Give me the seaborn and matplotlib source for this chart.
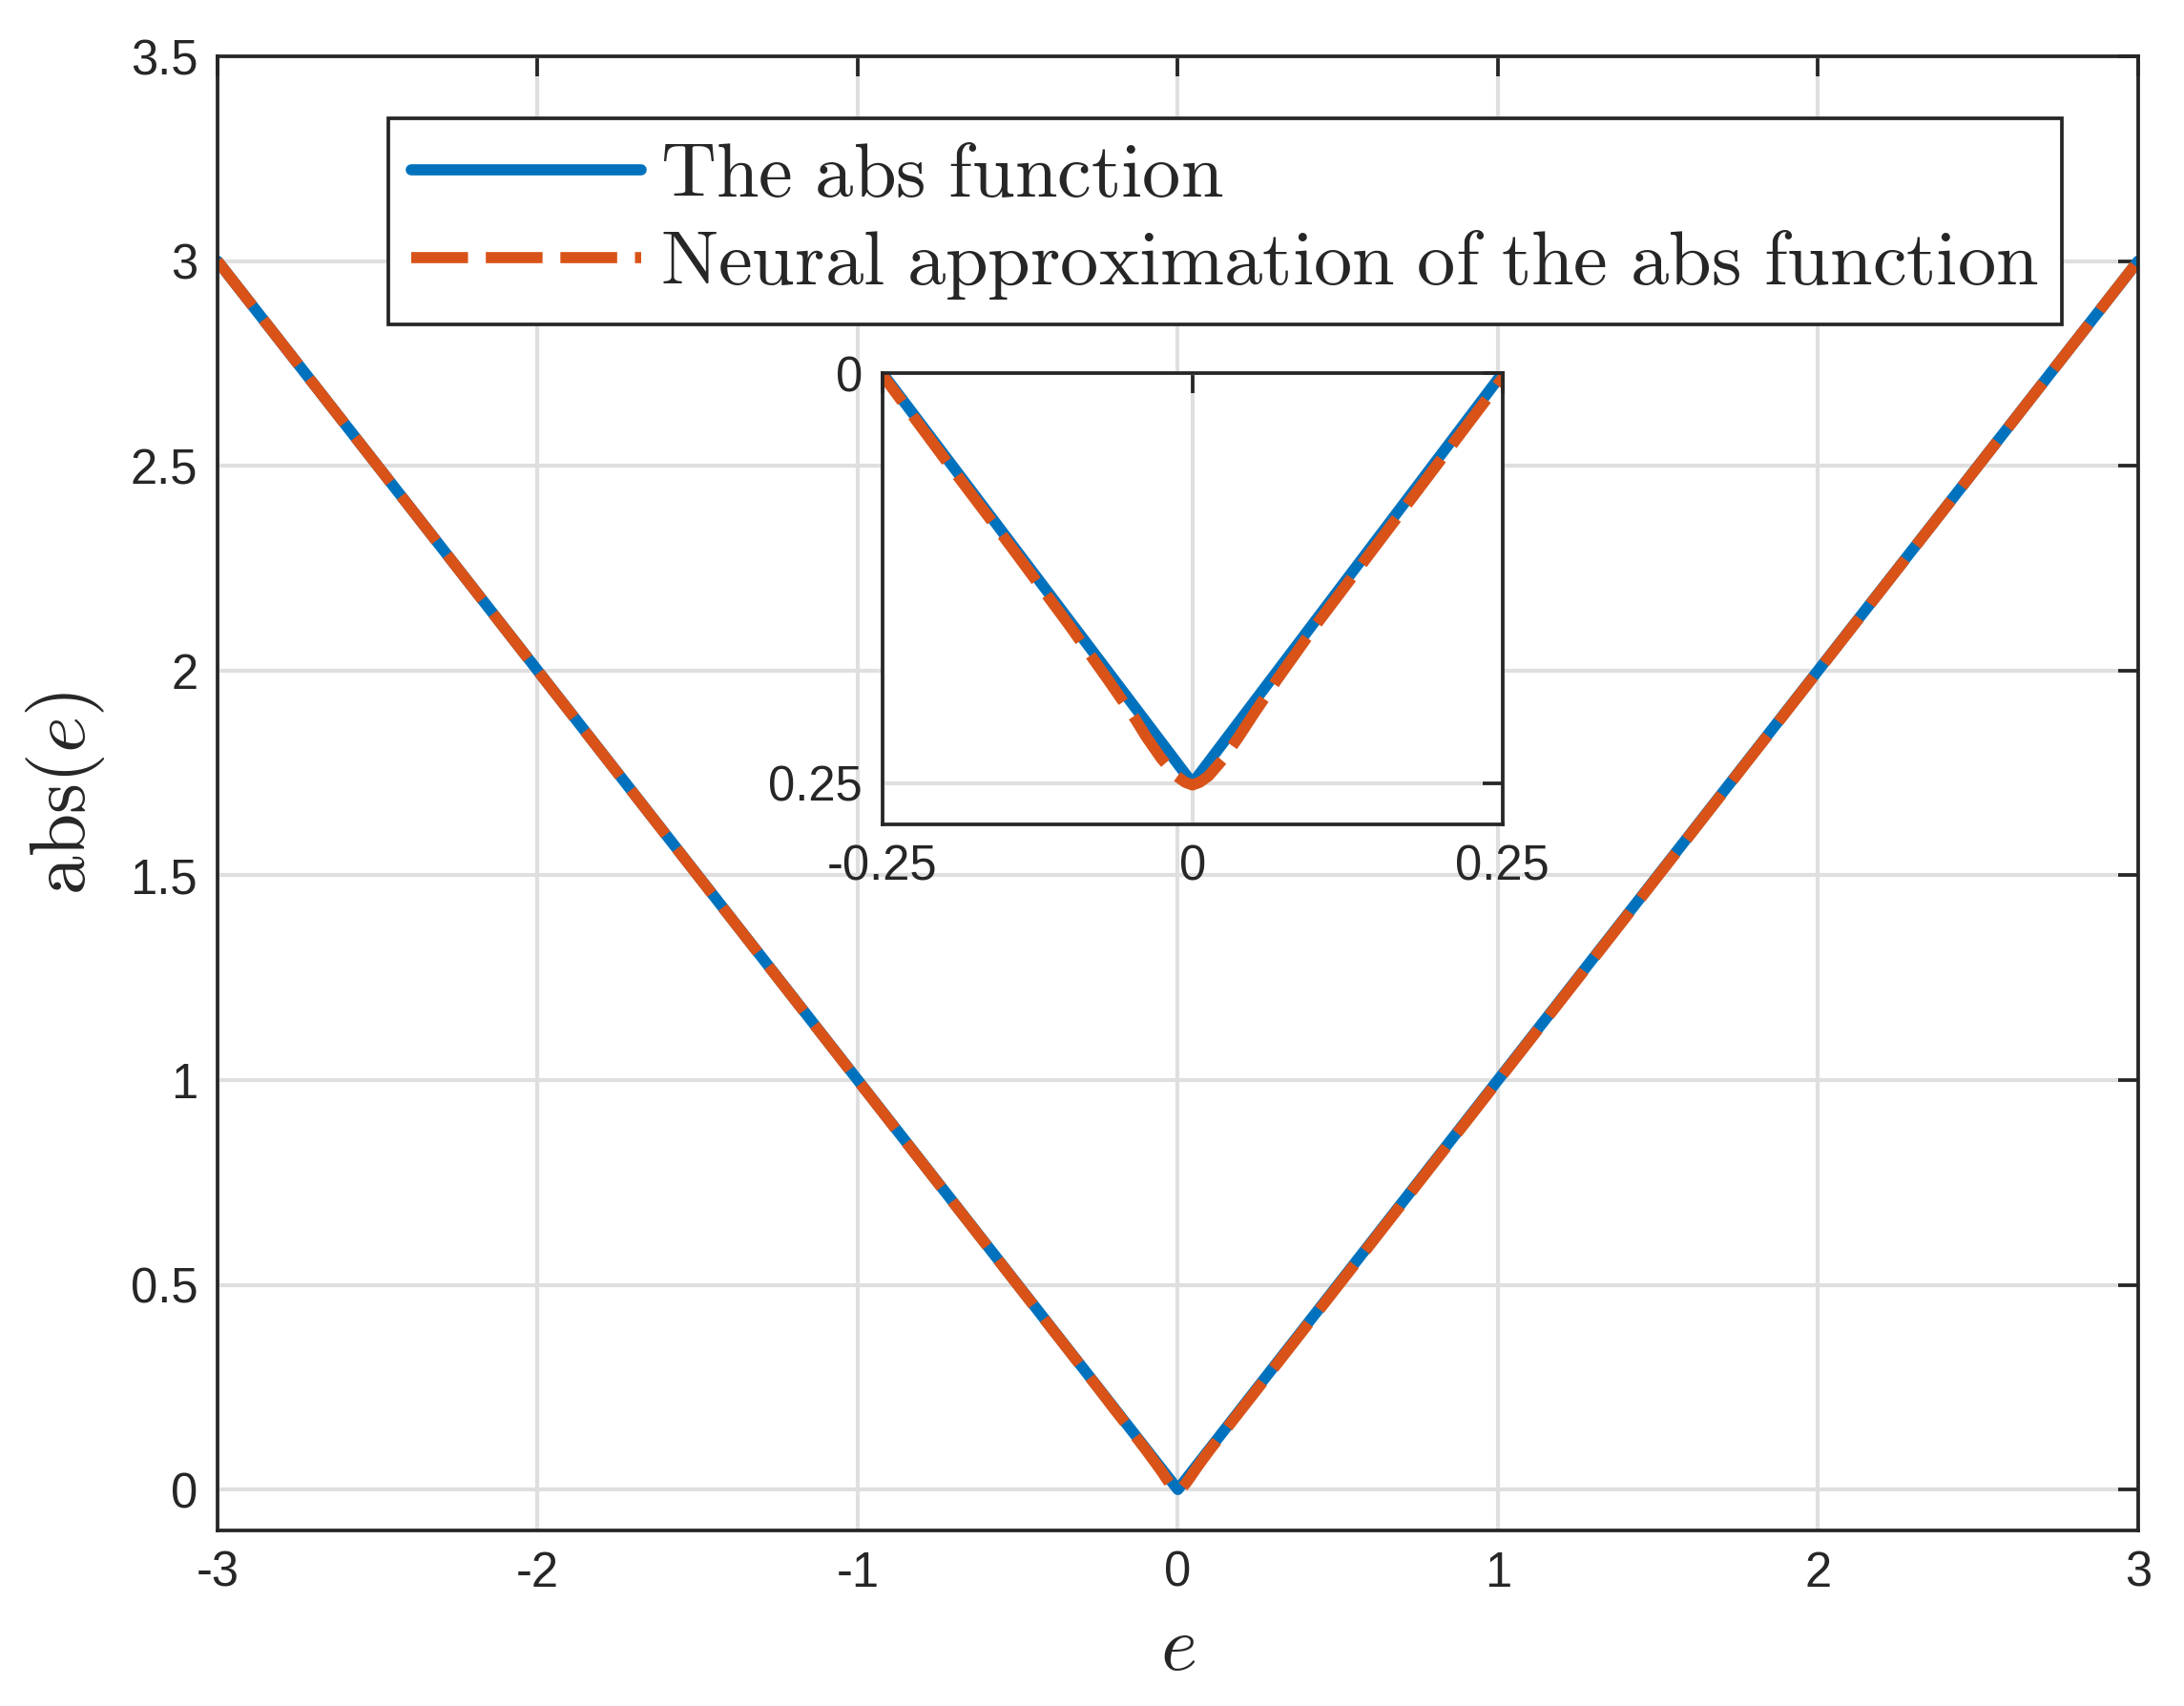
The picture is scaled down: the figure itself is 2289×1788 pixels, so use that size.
import matplotlib
matplotlib.use("Agg")
import matplotlib.pyplot as plt
import seaborn as sns

# datos: funcion abs y su aproximacion neuronal
e_abs = [-3, 0, 3]
y_abs = [3, 0, 3]

e_nn = [-3, -0.25, -0.2, -0.15, -0.1, -0.068, -0.046, -0.037, -0.025, -0.013, -0.006, 0,
        0.006, 0.013, 0.025, 0.037, 0.05, 0.068, 0.1, 0.15, 0.2, 0.25, 3]
y_nn = [3, 0.249, 0.198, 0.148, 0.097, 0.063, 0.039, 0.028, 0.015, 0.0045, 0.0007, -0.001,
        0.0007, 0.0045, 0.015, 0.028, 0.043, 0.063, 0.097, 0.147, 0.197, 0.247, 3]

xticks_main = [-3, -2, -1, 0, 1, 2, 3]
yticks_main = [0, 0.5, 1, 1.5, 2, 2.5, 3, 3.5]
xticks_zoom = [-0.25, 0, 0.25]
yticks_zoom = [0, 0.25]
yticklabels_zoom = ['0.25', '0']   # asi aparecen en la figura original

label_abs = r'$\mathrm{The\ abs\ function}$'
label_nn = r'$\mathrm{Neural\ approximation\ of\ the\ abs\ function}$'

azul = '#0072BD'
naranja = '#D95319'
gris_txt = '#262626'
lw = 2.8
guiones = (0, (5.1, 1.6))

sns.set_style("whitegrid")
plt.rcParams['font.family'] = ['Liberation Sans', 'DejaVu Sans']
plt.rcParams['mathtext.fontset'] = 'cm'
plt.rcParams['axes.unicode_minus'] = False


def estilo_ejes(ax, fs=12.2):
    ax.grid(True, color='#dfdfdf', linewidth=1.0)
    for s in ax.spines.values():
        s.set_color(gris_txt)
        s.set_linewidth(0.9)
    ax.tick_params(direction='in', length=5, width=0.9, colors=gris_txt,
                   top=True, right=True, labelsize=fs, pad=5)
    ax.set_facecolor('white')


fig = plt.figure(figsize=(7.63, 5.96), dpi=300)
ax = fig.add_axes([0.0996, 0.1029, 0.8794, 0.8641])

sns.lineplot(x=e_abs, y=y_abs, ax=ax, color=azul, linewidth=lw, sort=False,
             label=label_abs)
sns.lineplot(x=e_nn, y=y_nn, ax=ax, color=naranja, linewidth=lw, sort=False,
             linestyle=guiones, label=label_nn)

ax.set_xlim(-3, 3)
ax.set_ylim(-0.1, 3.5)
ax.set_xticks(xticks_main)
ax.set_xticklabels([f'{t:g}' for t in xticks_main])
ax.set_yticks(yticks_main)
ax.set_yticklabels([f'{t:g}' for t in yticks_main])
estilo_ejes(ax)
ax.set_xlabel(r'$e$', fontsize=19.5, color=gris_txt, labelpad=4)
ax.set_ylabel(r'$\mathrm{abs}(e)$', fontsize=19.5, color=gris_txt, labelpad=6)

leg = ax.legend(loc='upper left', bbox_to_anchor=(0.0889, 0.958), borderaxespad=0,
                fontsize=19.3, frameon=True, fancybox=False, framealpha=1,
                edgecolor=gris_txt, handlelength=3.0, handletextpad=0.25,
                borderpad=0.3, labelspacing=0.2)
leg.get_frame().set_linewidth(0.9)

# recuadro con zoom cerca de cero
axin = fig.add_axes([0.404, 0.5168, 0.284, 0.2645])
sns.lineplot(x=e_abs, y=y_abs, ax=axin, color=azul, linewidth=lw, sort=False)
sns.lineplot(x=e_nn, y=y_nn, ax=axin, color=naranja, linewidth=lw, sort=False,
             linestyle=guiones)
axin.set_xlim(-0.25, 0.25)
axin.set_ylim(-0.025, 0.25)
axin.set_xticks(xticks_zoom)
axin.set_xticklabels([f'{t:g}' for t in xticks_zoom])
axin.set_yticks(yticks_zoom)
axin.set_yticklabels(yticklabels_zoom)
estilo_ejes(axin)
axin.set_xlabel('')
axin.set_ylabel('')

fig.savefig('out.png', dpi=300)
